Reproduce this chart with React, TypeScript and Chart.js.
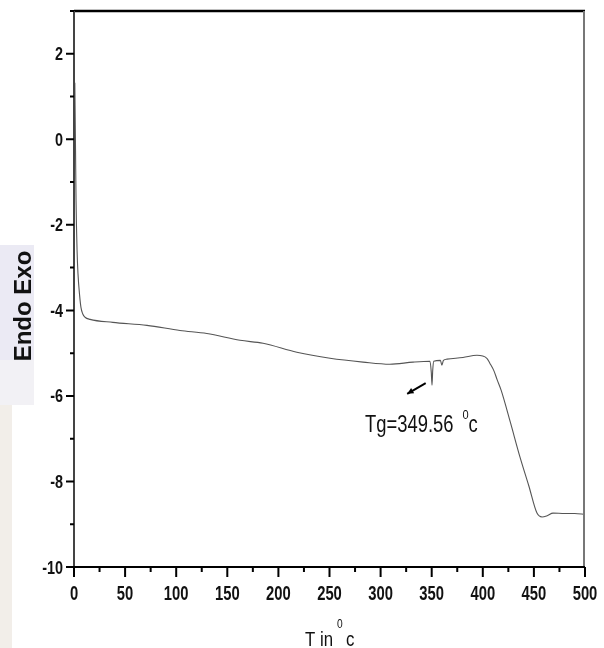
import React, { useEffect, useRef } from "react";
import { Chart, registerables } from "chart.js";

Chart.register(...registerables);

// Temperature (°C) and heat-flow signal
const temperatures = [
  0.8, 1.5, 2, 3, 3.9, 5.5, 6.8, 8.5, 10.8, 15.7, 38, 71.4, 103.7, 130, 162.4, 185, 218,
  250.5, 282.8, 309, 331.7, 348.3, 349.6, 350.3, 351, 352, 358.5, 360, 361.5, 365, 380.6,
  394.3, 404, 407, 411, 414, 418, 427, 436.4, 445, 453, 458, 463, 468.7, 480, 490, 500,
];
const heatFlow = [
  1.32, -0.26, -1.43, -2.6, -3.14, -3.65, -3.93, -4.08, -4.16, -4.21, -4.28, -4.35, -4.47,
  -4.54, -4.7, -4.77, -4.98, -5.12, -5.21, -5.26, -5.21, -5.19, -5.45, -5.75, -5.4, -5.19,
  -5.17, -5.28, -5.17, -5.14, -5.1, -5.05, -5.12, -5.24, -5.42, -5.62, -5.87, -6.62, -7.43,
  -8.1, -8.74, -8.83, -8.8, -8.74, -8.75, -8.75, -8.77,
];

const xMajorTicks = [0, 50, 100, 150, 200, 250, 300, 350, 400, 450, 500];
const xMinorTicks = [25, 75, 125, 175, 225, 275, 325, 375, 425, 475];
const yMajorTicks = [2, 0, -2, -4, -6, -8, -10];
const yMinorTicks = [3, 1, -1, -3, -5, -7, -9];

const xTitle = "T in";
const xTitleSup = "0";
const xTitleUnit = "c";
const yTitle = "Endo Exo";
const annotationText = "Tg=349.56";
const annotationSup = "0";
const annotationUnit = "c";
const arrowFrom = { x: 350, y: -5.75 };
const arrowTo = { x: 326, y: -5.95 };

const SANS = "'Liberation Sans', Arial, sans-serif";

function drawScaled(
  ctx: CanvasRenderingContext2D,
  text: string,
  x: number,
  y: number,
  font: string,
  sx: number,
  align: CanvasTextAlign
): number {
  ctx.save();
  ctx.translate(x, y);
  ctx.scale(sx, 1);
  ctx.font = font;
  ctx.textAlign = align;
  ctx.textBaseline = "alphabetic";
  ctx.fillText(text, 0, 0);
  const w = ctx.measureText(text).width * sx;
  ctx.restore();
  return w;
}

const backgroundPlugin = {
  id: "bgMarks",
  beforeDraw(chart: any) {
    const { ctx } = chart;
    ctx.save();
    ctx.fillStyle = "#ffffff";
    ctx.fillRect(0, 0, chart.width, chart.height);
    ctx.fillStyle = "#ebeaf4";
    ctx.fillRect(0, 245, 34, 115);
    ctx.fillStyle = "#f2f1f5";
    ctx.fillRect(0, 360, 34, 45);
    ctx.fillStyle = "#f2eee9";
    ctx.fillRect(0, 405, 12, 243);
    ctx.restore();
  },
};

const framePlugin = {
  id: "frameTicks",
  afterDraw(chart: any) {
    const { ctx, chartArea } = chart;
    const { left, right, top, bottom } = chartArea;
    const xs = chart.scales.x;
    const ys = chart.scales.y;
    ctx.save();
    ctx.lineCap = "butt";
    // top border
    ctx.strokeStyle = "#000";
    ctx.lineWidth = 2.5;
    ctx.beginPath();
    ctx.moveTo(left, top);
    ctx.lineTo(right, top);
    ctx.stroke();
    // right border
    ctx.strokeStyle = "#777";
    ctx.lineWidth = 2;
    ctx.beginPath();
    ctx.moveTo(right - 1, top);
    ctx.lineTo(right - 1, bottom);
    ctx.stroke();
    // left axis
    ctx.strokeStyle = "#444";
    ctx.lineWidth = 2;
    ctx.beginPath();
    ctx.moveTo(left, top);
    ctx.lineTo(left, bottom);
    ctx.stroke();
    // bottom axis
    ctx.strokeStyle = "#000";
    ctx.lineWidth = 2;
    ctx.beginPath();
    ctx.moveTo(left - 1, bottom);
    ctx.lineTo(right, bottom);
    ctx.stroke();

    // tick marks
    ctx.strokeStyle = "#000";
    ctx.lineWidth = 2;
    ctx.beginPath();
    for (const v of xMajorTicks) {
      const px = xs.getPixelForValue(v);
      ctx.moveTo(px, bottom);
      ctx.lineTo(px, bottom + 10);
    }
    for (const v of xMinorTicks) {
      const px = xs.getPixelForValue(v);
      ctx.moveTo(px, bottom);
      ctx.lineTo(px, bottom + 5);
    }
    for (const v of yMajorTicks) {
      const py = ys.getPixelForValue(v);
      ctx.moveTo(left, py);
      ctx.lineTo(left - 8, py);
    }
    for (const v of yMinorTicks) {
      const py = ys.getPixelForValue(v);
      ctx.moveTo(left, py);
      ctx.lineTo(left - 4, py);
    }
    ctx.stroke();

    // tick labels (condensed bold, from the scale's own ticks)
    ctx.fillStyle = "#111";
    for (const t of xs.ticks) {
      if (!xMajorTicks.includes(t.value)) continue;
      const px = xs.getPixelForValue(t.value);
      drawScaled(ctx, String(t.value), px, bottom + 33, `bold 20px ${SANS}`, 0.74, "center");
    }
    for (const t of ys.ticks) {
      if (!yMajorTicks.includes(t.value)) continue;
      const py = ys.getPixelForValue(t.value);
      drawScaled(ctx, String(t.value), left - 11, py + 6.5, `bold 18px ${SANS}`, 0.8, "right");
    }

    // y title
    ctx.save();
    ctx.translate(24, 306);
    ctx.rotate(-Math.PI / 2);
    ctx.font = `bold 24px ${SANS}`;
    ctx.textAlign = "center";
    ctx.textBaseline = "middle";
    ctx.fillText(yTitle, 0, 0);
    ctx.restore();

    // x title
    const tx = 305;
    const tw = drawScaled(ctx, xTitle, tx, 646, `21px ${SANS}`, 0.8, "left");
    drawScaled(ctx, xTitleSup, tx + tw + 4, 628, `12px ${SANS}`, 0.85, "left");
    drawScaled(ctx, xTitleUnit, tx + tw + 13, 646, `21px ${SANS}`, 0.8, "left");

    // annotation text
    const ax = 365;
    const aw = drawScaled(ctx, annotationText, ax, 432, `23px ${SANS}`, 0.8, "left");
    drawScaled(ctx, annotationSup, ax + aw + 9, 419, `13px ${SANS}`, 0.85, "left");
    drawScaled(ctx, annotationUnit, ax + aw + 15, 432, `23px ${SANS}`, 0.8, "left");

    // arrow
    const x1 = xs.getPixelForValue(arrowFrom.x) - 6;
    const y1 = ys.getPixelForValue(arrowFrom.y) - 2;
    const x2 = xs.getPixelForValue(arrowTo.x);
    const y2 = ys.getPixelForValue(arrowTo.y);
    ctx.strokeStyle = "#000";
    ctx.lineWidth = 2;
    ctx.beginPath();
    ctx.moveTo(x1, y1);
    ctx.lineTo(x2, y2);
    ctx.stroke();
    const ang = Math.atan2(y2 - y1, x2 - x1);
    ctx.fillStyle = "#000";
    ctx.beginPath();
    ctx.moveTo(x2, y2);
    ctx.lineTo(x2 - 7 * Math.cos(ang - 0.45), y2 - 7 * Math.sin(ang - 0.45));
    ctx.lineTo(x2 - 7 * Math.cos(ang + 0.45), y2 - 7 * Math.sin(ang + 0.45));
    ctx.closePath();
    ctx.fill();

    ctx.restore();
  },
};

export default function App() {
  const canvasRef = useRef<HTMLCanvasElement | null>(null);

  useEffect(() => {
    if (!canvasRef.current) return;
    const points = temperatures.map((t, i) => ({ x: t, y: heatFlow[i] }));
    const chart = new Chart(canvasRef.current, {
      type: "scatter",
      data: {
        datasets: [
          {
            data: points,
            showLine: true,
            borderColor: "#555555",
            borderWidth: 1.1,
            pointRadius: 0,
            cubicInterpolationMode: "monotone",
            fill: false,
          },
        ],
      },
      options: {
        responsive: false,
        animation: false,
        events: [],
        layout: { padding: { top: 11, right: 19, left: 0, bottom: 0 } },
        plugins: {
          legend: { display: false },
          tooltip: { enabled: false },
        },
        scales: {
          x: {
            type: "linear",
            min: 0,
            max: 500,
            border: { display: false },
            grid: { display: false, drawTicks: false },
            ticks: { stepSize: 50, display: false },
            afterFit: (s: any) => {
              s.height = 81;
              s.paddingLeft = 0;
              s.paddingRight = 0;
              s.paddingTop = 0;
              s.paddingBottom = 0;
            },
          },
          y: {
            type: "linear",
            min: -10,
            max: 3,
            border: { display: false },
            grid: { display: false, drawTicks: false },
            ticks: { stepSize: 2, includeBounds: false, display: false },
            afterFit: (s: any) => {
              s.width = 74;
              s.paddingLeft = 0;
              s.paddingRight = 0;
              s.paddingTop = 0;
              s.paddingBottom = 0;
            },
          },
        },
      },
      plugins: [backgroundPlugin, framePlugin],
    });
    return () => chart.destroy();
  }, []);

  return (
    <div style={{ position: "absolute", left: 0, top: 0, width: 604, height: 648 }}>
      <canvas ref={canvasRef} width={604} height={648} style={{ display: "block" }} />
    </div>
  );
}
